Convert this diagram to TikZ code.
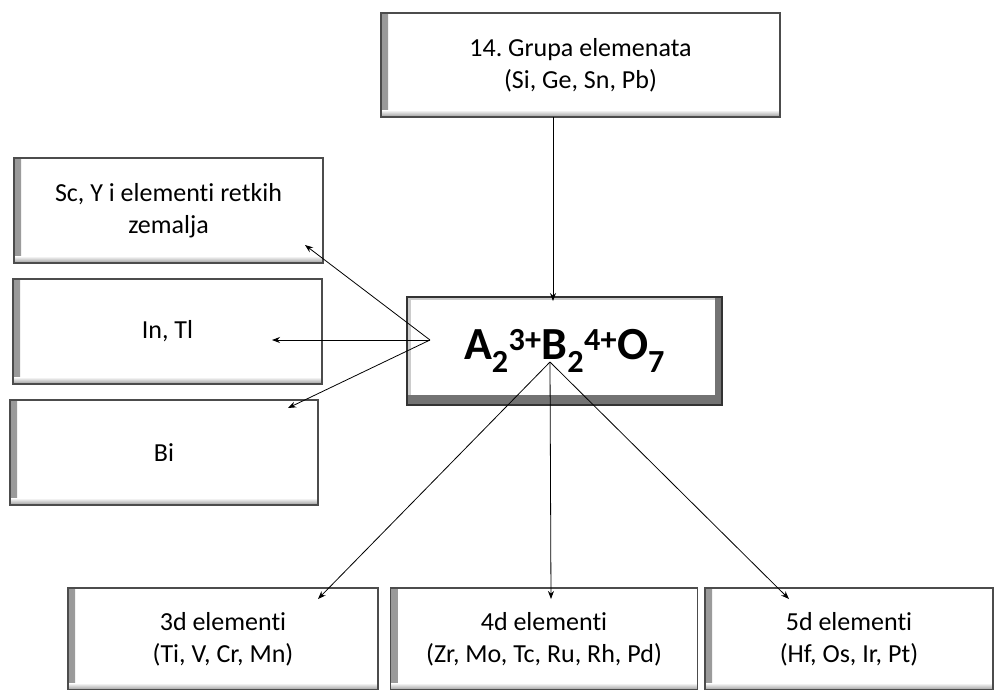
\documentclass[tikz,border=0pt]{standalone}
\usepackage{fontspec}
\setmainfont{Carlito}[Ligatures=NoCommon]
\usetikzlibrary{arrows.meta}
\frenchspacing
\newcommand{\boxfont}{\fontsize{26}{32}\selectfont}
\tikzset{
  box/.style={draw=black!70, line width=1.2pt, fill=white, align=center, font=\boxfont, inner sep=0pt,
    path picture={
      \shade[left color=black!40, right color=white] (path picture bounding box.north west) rectangle ([xshift=7pt]path picture bounding box.south west);
      \shade[bottom color=black!40, top color=white] (path picture bounding box.south west) rectangle ([yshift=7pt]path picture bounding box.south east);
    }},
  bevel/.style={draw=black!80, line width=1.2pt, fill=black!55, align=center, inner sep=0pt,
    font=\fontsize{46}{50}\selectfont\bfseries,
    path picture={
      \fill[black!20] ([xshift=1pt,yshift=-1pt]path picture bounding box.north west) rectangle ([xshift=-7pt,yshift=10pt]path picture bounding box.south east);
      \fill[white] ([xshift=4pt,yshift=-3pt]path picture bounding box.north west) rectangle ([xshift=-7pt,yshift=10pt]path picture bounding box.south east);
    }},
  conn/.style={draw=black, line width=0.8pt, -{Stealth[length=8pt,width=6pt]}}
}
\begin{document}
\begin{tikzpicture}[x=1pt,y=-1pt]
\useasboundingbox[fill=white] (0,0) rectangle (997,689);
% boxes
\node[box, minimum width=399pt, minimum height=104pt] (top) at (580.5,65) {14. Grupa elemenata\\(Si, Ge, Sn, Pb)};
\node[box, minimum width=309pt, minimum height=105pt] (ree) at (168.5,210.5) {Sc, Y i elementi retkih\\zemalja};
\node[box, minimum width=309pt, minimum height=105pt] (intl) at (167.5,331.5) {In, Tl};
\node[box, minimum width=308pt, minimum height=105pt] (bi) at (164,452.5) {Bi};
\node[bevel, minimum width=315pt, minimum height=108pt] (center) at (564.5,351) {A\textsubscript{2}\textsuperscript{3+}B\textsubscript{2}\textsuperscript{4+}O\textsubscript{7}};
\node[box, minimum width=310pt, minimum height=102pt] (d3) at (223,639) {3d elementi\\(Ti, V, Cr, Mn)};
\node[box, minimum width=307pt, minimum height=102pt] (d4) at (544,639) {4d elementi\\(Zr, Mo, Tc, Ru, Rh, Pd)};
\node[box, minimum width=288pt, minimum height=102pt] (d5) at (849,639) {5d elementi\\(Hf, Os, Ir, Pt)};
% connector points
\coordinate (srcT) at (553,117);
\coordinate (tipT) at (553,301);
\coordinate (srcL) at (430,340);
\coordinate (srcB) at (550,362);
\coordinate (tipRee) at (305,245);
\coordinate (tipIn) at (272,340);
\coordinate (tipBi) at (288,408);
\coordinate (tip3) at (318,599);
\coordinate (tip4) at (551,599);
\coordinate (tip5) at (789,599);
% connectors
\draw[conn] (srcT) -- (tipT);
\draw[conn] (srcL) -- (tipRee);
\draw[conn] (srcL) -- (tipIn);
\draw[conn] (srcL) -- (tipBi);
\draw[conn] (srcB) -- (tip3);
\draw[conn] (srcB) -- (tip4);
\draw[conn] (srcB) -- (tip5);
\end{tikzpicture}
\end{document}
